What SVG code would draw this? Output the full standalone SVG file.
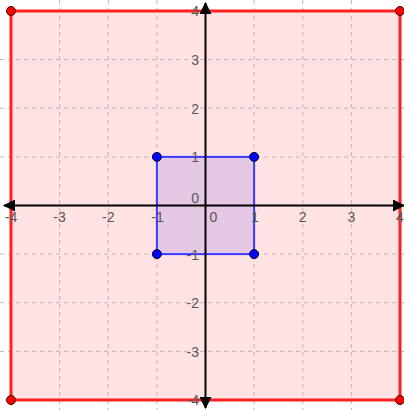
<svg xmlns="http://www.w3.org/2000/svg" width="404" height="410" viewBox="0 0 404 410">
<style>
.grid{stroke:#c4b4b4;stroke-width:1;stroke-dasharray:4,4;fill:none}
.lbl{font-family:"Liberation Sans",Arial,sans-serif;font-size:14px;fill:#555}
.xl{text-anchor:middle}
.yl{text-anchor:end}
.axis{stroke:#000;stroke-width:2;fill:none}
.rpt{fill:#f00;stroke:#400;stroke-width:1}
.bpt{fill:#00f;stroke:#002;stroke-width:1}
</style>
<defs>
<marker id="ah" viewBox="0 0 12 12" refX="11" refY="6" markerWidth="12" markerHeight="12" markerUnits="userSpaceOnUse" orient="auto">
<path d="M0,0 L12,6 L0,12 Z" fill="#000"/>
</marker>
</defs>
<rect x="0" y="0" width="404" height="410" fill="#fff"/>
<rect x="11" y="11" width="389" height="389" fill="#ffe2e2"/>
<g id="grid">
<path class="grid" d="M59.6,0V410M108.25,0V410M156.9,0V410M254.1,0V410M302.75,0V410M351.4,0V410M0,59.6H404M0,108.25H404M0,156.9H404M0,254.1H404M0,302.75H404M0,351.4H404"/>
</g>
<g id="bigsquare">
<rect x="11" y="11" width="389" height="389" fill="none" stroke="#ff2020" stroke-width="3"/>
</g>
<g id="smallsquare">
<rect x="156.9" y="156.9" width="97.2" height="97.2" fill="#e5c8e3" stroke="#3a3aff" stroke-width="2"/>
</g>
<g id="connectors">
<line class="axis" x1="205.5" y1="205.5" x2="205.5" y2="3" marker-end="url(#ah)"/>
<line class="axis" x1="205.5" y1="205.5" x2="205.5" y2="408" marker-end="url(#ah)"/>
<line class="axis" x1="205.5" y1="205.5" x2="4" y2="205.5" marker-end="url(#ah)"/>
<line class="axis" x1="205.5" y1="205.5" x2="404" y2="205.5" marker-end="url(#ah)"/>
</g>
<g id="labels">
<text class="lbl xl" x="11" y="222">-4</text>
<text class="lbl xl" x="59.6" y="222">-3</text>
<text class="lbl xl" x="108.25" y="222">-2</text>
<text class="lbl xl" x="157.5" y="222">-1</text>
<text class="lbl xl" x="213.5" y="222">0</text>
<text class="lbl xl" x="255" y="222">1</text>
<text class="lbl xl" x="302.75" y="222">2</text>
<text class="lbl xl" x="351.4" y="222">3</text>
<text class="lbl xl" x="400" y="222">4</text>
<text class="lbl yl" x="199" y="16">4</text>
<text class="lbl yl" x="199" y="65">3</text>
<text class="lbl yl" x="199" y="113.5">2</text>
<text class="lbl yl" x="199" y="162">1</text>
<text class="lbl yl" x="199" y="203">0</text>
<text class="lbl yl" x="199" y="259.5">-1</text>
<text class="lbl yl" x="199" y="308">-2</text>
<text class="lbl yl" x="199" y="356.5">-3</text>
<text class="lbl yl" x="199" y="405">-4</text>
</g>
<g id="points">
<circle class="rpt" cx="11" cy="11" r="4.5"/>
<circle class="rpt" cx="400" cy="11" r="4.5"/>
<circle class="rpt" cx="11" cy="400" r="4.5"/>
<circle class="rpt" cx="400" cy="400" r="4.5"/>
<circle class="bpt" cx="156.9" cy="156.9" r="4.5"/>
<circle class="bpt" cx="254.1" cy="156.9" r="4.5"/>
<circle class="bpt" cx="156.9" cy="254.1" r="4.5"/>
<circle class="bpt" cx="254.1" cy="254.1" r="4.5"/>
</g>
</svg>
